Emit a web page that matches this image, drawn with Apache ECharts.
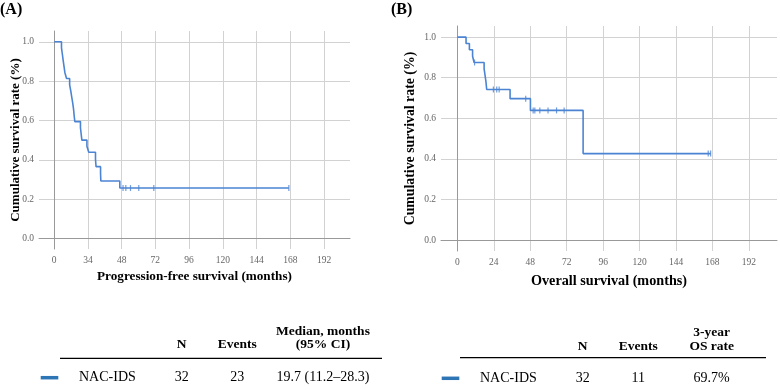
<!DOCTYPE html>
<html>
<head>
<meta charset="utf-8">
<script src="https://cdn.jsdelivr.net/npm/echarts@6/dist/echarts.min.js"></script>
<style>
  html, body { margin: 0; padding: 0; background: #fff; }
  #chart { width: 780px; height: 390px; }
</style>
</head>
<body>
<div id="chart"></div>
<script>
// --- data ---
const xTicks = [0, 24, 48, 72, 96, 120, 144, 168, 192];
const pfsTickLabels = ["0", "34", "48", "72", "96", "120", "144", "168", "192"];
const osTickLabels = ["0", "24", "48", "72", "96", "120", "144", "168", "192"];
const yTicks = [0, 0.2, 0.4, 0.6, 0.8, 1.0];

// progression-free survival (step points: time -> survival from that time on)
const pfsTime = [0, 5.2, 5.8, 6.4, 7.0, 7.6, 8.8, 11.0, 11.8, 12.5, 13.2, 13.8, 14.2, 14.7, 18.7, 19.2, 19.7, 23.3, 24.6, 29.4, 29.8, 33.0, 33.2, 46.7, 167];
const pfsSurv = [1.0, 0.969, 0.938, 0.906, 0.875, 0.844, 0.813, 0.781, 0.75, 0.719, 0.688, 0.656, 0.625, 0.594, 0.563, 0.531, 0.5, 0.469, 0.438, 0.401, 0.365, 0.329, 0.292, 0.256, 0.256];
const pfsCensor = [49, 51, 54.3, 60.2, 70.9, 167];

// overall survival
const osTime = [0, 5.7, 7.9, 10.0, 11.0, 17.6, 18.2, 18.8, 19.3, 34.7, 48.1, 82.8, 166.8];
const osSurv = [1.0, 0.969, 0.938, 0.906, 0.875, 0.844, 0.813, 0.781, 0.742, 0.697, 0.639, 0.426, 0.426];
const osCensor = [11.3, 23.7, 25.9, 27.5, 45, 49.9, 51, 54.3, 59.7, 65.3, 70.3, 165.2, 166.8];

const tableA = { head: ["N", "Events", "Median, months\n(95% CI)"], row: ["NAC-IDS", "32", "23", "19.7 (11.2\u201328.3)"] };
const tableB = { head: ["N", "Events", "3-year\nOS rate"], row: ["NAC-IDS", "32", "11", "69.7%"] };

const CURVE = "#4c84d4";
const SERIF = '"Liberation Serif", "Times New Roman", serif';

function survAt(times, surv, t) {
  let v = surv[0];
  for (let i = 0; i < times.length; i++) if (times[i] <= t) v = surv[i];
  return v;
}

function xAxisFor(idx, labels, title, gap, fs) {
  return {
    type: "value", gridIndex: idx, min: -10.8, max: 210.5,
    name: title, nameLocation: "middle", nameGap: gap, nameMoveOverlap: false,
    nameTextStyle: { fontFamily: SERIF, fontWeight: "bold", fontSize: fs, color: "#000" },
    axisLine: { show: true, lineStyle: { color: "#999", width: 1 } },
    axisTick: { show: false, customValues: xTicks },
    axisLabel: {
      customValues: xTicks, fontFamily: SERIF, fontSize: 9.5, color: "#666", margin: 6,
      formatter: (v) => labels[xTicks.indexOf(v)] ?? ""
    },
    splitLine: { show: true, lineStyle: { color: "#d2d2d2", width: 1 } }
  };
}

function yAxisFor(idx, gap, fs) {
  return {
    type: "value", gridIndex: idx, min: -0.054, max: 1.055,
    name: "Cumulative survival rate (%)", nameLocation: "middle", nameGap: gap, nameMoveOverlap: false,
    nameTextStyle: { fontFamily: SERIF, fontWeight: "bold", fontSize: fs, color: "#000" },
    axisLine: { show: true, lineStyle: { color: "#999", width: 1 } },
    axisTick: { show: false, customValues: yTicks },
    axisLabel: {
      customValues: yTicks, fontFamily: SERIF, fontSize: 9.5, color: "#666", margin: 5,
      formatter: (v) => v.toFixed(1)
    },
    splitLine: { show: true, lineStyle: { color: "#d2d2d2", width: 1 } }
  };
}

function curveSeries(idx, times, surv, censor) {
  return [
    {
      type: "line", xAxisIndex: idx, yAxisIndex: idx, step: "end",
      data: times.map((t, i) => [t, surv[i]]),
      showSymbol: false, silent: true,
      lineStyle: { color: CURVE, width: 1.6 }
    },
    {
      type: "scatter", xAxisIndex: idx, yAxisIndex: idx,
      data: censor.map((t) => [t, survAt(times, surv, t)]),
      symbol: "rect", symbolSize: [1.2, 6], silent: true,
      itemStyle: { color: CURVE }
    }
  ];
}

function tableGraphics(t, cols, headY, lineY, lineX, rowY, dashX, nameX) {
  const els = [];
  const hFont = "bold 13.5px " + SERIF;
  const rFont = "14px " + SERIF;
  t.head.forEach((h, i) => {
    const lines = h.split("\n");
    lines.forEach((ln, j) => {
      els.push({
        type: "text", x: cols[i], y: headY[lines.length - 1][j],
        style: { text: ln, font: hFont, fill: "#000", align: "center", verticalAlign: "middle" }
      });
    });
  });
  els.push({ type: "line", shape: { x1: lineX[0], y1: lineY, x2: lineX[1], y2: lineY }, style: { stroke: "#000", lineWidth: 1.3 } });
  els.push({ type: "line", shape: { x1: dashX[0], y1: rowY, x2: dashX[1], y2: rowY }, style: { stroke: "#2e75b6", lineWidth: 3.5 } });
  els.push({ type: "text", x: nameX, y: rowY, style: { text: t.row[0], font: rFont, fill: "#000", align: "left", verticalAlign: "middle" } });
  t.row.slice(1).forEach((v, i) => {
    els.push({ type: "text", x: cols[i], y: rowY, style: { text: v, font: rFont, fill: "#000", align: "center", verticalAlign: "middle" } });
  });
  return els;
}

const chart = echarts.init(document.getElementById("chart"));
chart.setOption({
  animation: false,
  grid: [
    { left: 39, top: 31, width: 311, height: 218 },
    { left: 441, top: 26, width: 336, height: 225 }
  ],
  xAxis: [
    xAxisFor(0, pfsTickLabels, "Progression-free survival (months)", 21, 13.2),
    xAxisFor(1, osTickLabels, "Overall survival (months)", 23.5, 14.2)
  ],
  yAxis: [yAxisFor(0, 17, 13), yAxisFor(1, 24, 13.8)],
  series: [
    ...curveSeries(0, pfsTime, pfsSurv, pfsCensor),
    ...curveSeries(1, osTime, osSurv, osCensor)
  ],
  graphic: [
    { type: "text", x: 0, y: 10, style: { text: "(A)", font: "bold 16px " + SERIF, fill: "#000", verticalAlign: "middle" } },
    { type: "text", x: 391, y: 10, style: { text: "(B)", font: "bold 16px " + SERIF, fill: "#000", verticalAlign: "middle" } },
    ...tableGraphics(tableA, [181.7, 237.3, 323], [[345], [331.7, 345]], 358.3, [60, 382], 377.7, [40.7, 58.3], 79),
    ...tableGraphics(tableB, [582.7, 638.3, 711.7], [[346.7], [332.7, 346.7]], 357.7, [460, 766], 378.3, [441.7, 459.3], 480)
  ]
});
</script>
</body>
</html>
